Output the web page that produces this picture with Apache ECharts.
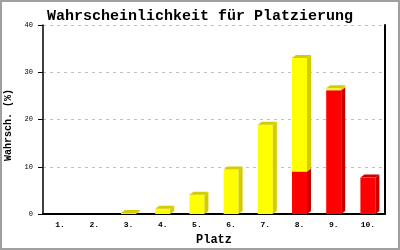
<!DOCTYPE html>
<html>
<head>
<meta charset="utf-8">
<script src="https://cdn.jsdelivr.net/npm/echarts@6/dist/echarts.min.js"></script>
<style>
html,body{margin:0;padding:0;background:#fff;}
#chart{width:400px;height:250px;}
</style>
</head>
<body>
<div id="chart"></div>
<script>
const categories = ['1.', '2.', '3.', '4.', '5.', '6.', '7.', '8.', '9.', '10.'];
const redValues = [0, 0, 0, 0, 0, 0, 0, 9, 26.2, 7.7];
const yellowValues = [0, 0, 0.2, 1.1, 4.1, 9.4, 18.9, 24, 0.4, 0];
const yTicks = [0, 10, 20, 30, 40];

const FONT = '"Liberation Mono", "DejaVu Sans Mono", monospace';
const COLORS = {
  red: { front: '#ff0000', dark: '#c80000' },
  yellow: { front: '#ffff00', dark: '#d2cc00' }
};

const data = categories.map((c, i) => [i, redValues[i], yellowValues[i]]);

function renderItem(params, api) {
  const i = api.value(0);
  const r = api.value(1);
  const yv = api.value(2);
  const total = r + yv;
  if (total <= 0) return { type: 'group', children: [] };
  const center = api.coord([i, 0]);
  const w = 15, dx = 4, dy = 3;
  const x0 = center[0] - 7.5, x1 = x0 + w;
  const children = [];
  const segs = [];
  if (r > 0) segs.push({ from: 0, to: r, c: COLORS.red });
  if (yv > 0) segs.push({ from: r, to: total, c: COLORS.yellow });
  segs.forEach(s => {
    const yb = api.coord([i, s.from])[1];
    const yt = api.coord([i, s.to])[1];
    children.push({
      type: 'rect',
      shape: { x: x0, y: yt, width: w, height: yb - yt },
      style: { fill: s.c.front }
    });
    children.push({
      type: 'polygon',
      shape: { points: [[x1, yb], [x1 + dx, yb - dy], [x1 + dx, yt - dy], [x1, yt]] },
      style: { fill: s.c.dark }
    });
  });
  const top = segs[segs.length - 1];
  const ytop = api.coord([i, total])[1];
  children.push({
    type: 'polygon',
    shape: { points: [[x0, ytop], [x0 + dx, ytop - dy], [x1 + dx, ytop - dy], [x1, ytop]] },
    style: { fill: top.c.dark }
  });
  return { type: 'group', children };
}

const chart = echarts.init(document.getElementById('chart'), null, { renderer: 'canvas' });
chart.setOption({
  animation: false,
  backgroundColor: '#fff',
  title: {
    text: 'Wahrscheinlichkeit für Platzierung',
    left: 'center',
    top: 4,
    textStyle: { fontFamily: FONT, fontWeight: 'bold', fontSize: 15, color: '#000' }
  },
  graphic: [{
    type: 'rect',
    shape: { x: 1, y: 1, width: 398, height: 248 },
    style: { fill: null, stroke: '#a0a0a0', lineWidth: 2 },
    silent: true
  }],
  grid: { left: 43, right: 15, top: 25, bottom: 36, containLabel: false, outerBoundsMode: 'none' },
  xAxis: {
    type: 'category',
    data: categories,
    axisLine: { lineStyle: { color: '#000', width: 2 } },
    axisTick: { show: false },
    axisLabel: { color: '#000', fontFamily: FONT, fontWeight: 'bold', fontSize: 8, margin: 7 },
    name: 'Platz',
    nameLocation: 'middle',
    nameGap: 20,
    nameTextStyle: { fontFamily: FONT, fontWeight: 'bold', fontSize: 12, color: '#000' }
  },
  yAxis: [{
    type: 'value',
    min: yTicks[0],
    max: yTicks[yTicks.length - 1],
    interval: 10,
    axisLine: { show: true, lineStyle: { color: '#000', width: 1.5 } },
    axisTick: { show: true, length: 5, lineStyle: { color: '#000' } },
    axisLabel: { color: '#000', fontFamily: FONT, fontSize: 7, margin: 10 },
    splitLine: { show: true, lineStyle: { color: '#c0c0c0', type: [3, 4], width: 1 } },
    name: 'Wahrsch. (%)',
    nameLocation: 'middle',
    nameGap: 24,
    nameTextStyle: { fontFamily: FONT, fontWeight: 'bold', fontSize: 10, color: '#000', padding: [0, 11, 0, 0] }
  }, {
    type: 'value',
    position: 'right',
    min: yTicks[0],
    max: yTicks[yTicks.length - 1],
    interval: 10,
    axisLine: { show: true, lineStyle: { color: '#000', width: 2 } },
    axisTick: { show: false },
    axisLabel: { show: false },
    splitLine: { show: false }
  }],
  series: [{
    type: 'custom',
    renderItem: renderItem,
    data: data,
    encode: { x: 0, y: [1, 2] }
  }]
});
</script>
</body>
</html>
